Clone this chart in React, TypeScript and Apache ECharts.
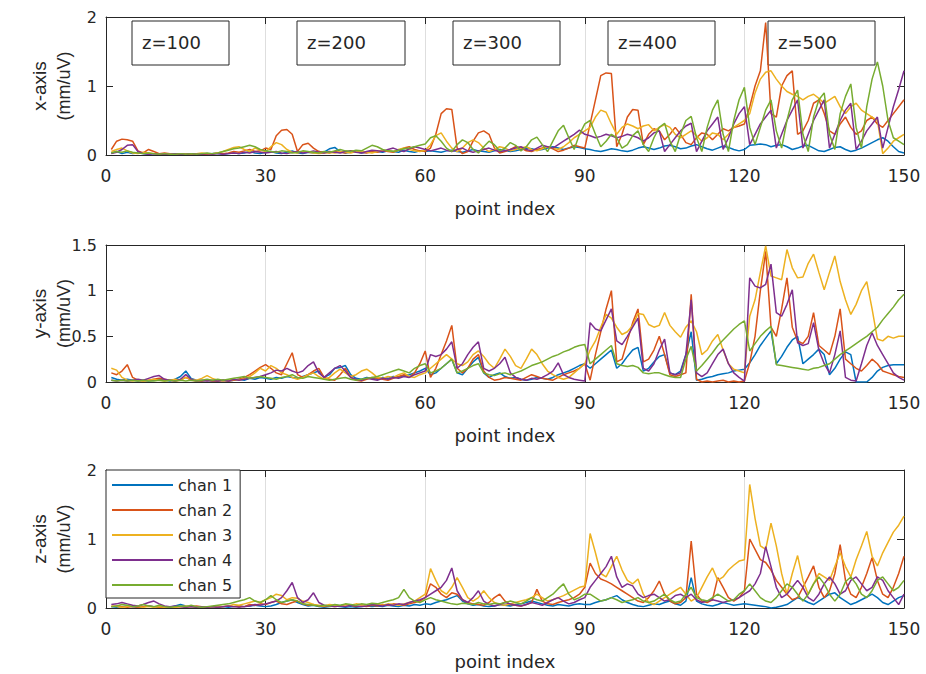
import React, { useEffect, useRef } from "react";
import * as echarts from "echarts";

const CHANNELS = ["chan 1", "chan 2", "chan 3", "chan 4", "chan 5"];
const COLORS = ["#0072BD", "#D95319", "#EDB120", "#7E2F8E", "#77AC30"];
const X_TICK_INTERVAL = 30;
const X_MAX = 150;
const Z_LABELS = ["z=100", "z=200", "z=300", "z=400", "z=500"];
const PANEL_TITLES = ["x-axis", "y-axis", "z-axis"];
const UNIT = "(mm/uV)";
const X_TITLE = "point index";
const PANEL_MAX = [2, 1.5, 2];
const PANEL_INTERVAL = [1, 0.5, 1];

// ---------- x-axis panel ----------
const xChan1 = [
  0.03,0.05,0.02,0.04,0.02,0.03,0.02,0.01,0.02,0.01, 0.01,0.02,0.01,0.01,0.02,0.01,0.01,0.02,0.01,0.02, 0.02,0.01,0.02,0.03,0.02,0.03,0.05,0.03,0.02,0.04,
  0.05,0.03,0.02,0.04,0.06,0.03,0.02,0.04,0.03,0.05, 0.04,0.09,0.11,0.05,0.03,0.04,0.05,0.03,0.04,0.06, 0.05,0.04,0.06,0.05,0.04,0.07,0.05,0.04,0.06,0.05,
  0.06,0.05,0.04,0.06,0.07,0.05,0.04,0.06,0.08,0.06, 0.05,0.04,0.06,0.08,0.07,0.05,0.06,0.08,0.1,0.09, 0.07,0.08,0.1,0.12,0.1,0.08,0.1,0.12,0.11,0.09,
  0.08,0.06,0.05,0.07,0.09,0.08,0.06,0.05,0.07,0.1, 0.12,0.1,0.08,0.1,0.13,0.14,0.12,0.09,0.1,0.13, 0.15,0.12,0.09,0.07,0.1,0.13,0.11,0.08,0.06,0.08,
  0.14,0.15,0.16,0.15,0.12,0.14,0.15,0.12,0.08,0.1, 0.13,0.14,0.1,0.06,0.05,0.08,0.11,0.12,0.08,0.05, 0.07,0.1,0.14,0.18,0.22,0.25,0.2,0.12,0.05,0.03,
];
const xChan2 = [
  0.08,0.2,0.23,0.22,0.2,0.06,0.03,0.08,0.05,0.02, 0.03,0.02,0.01,0.02,0.01,0.01,0.02,0.01,0.01,0.02, 0.03,0.02,0.03,0.05,0.04,0.06,0.08,0.05,0.06,0.1,
  0.08,0.28,0.36,0.37,0.3,0.05,0.15,0.17,0.1,0.05, 0.04,0.03,0.05,0.04,0.03,0.06,0.05,0.04,0.03,0.05, 0.04,0.06,0.05,0.04,0.07,0.1,0.12,0.08,0.06,0.05,
  0.1,0.3,0.6,0.67,0.66,0.1,0.02,0.05,0.2,0.32, 0.35,0.3,0.1,0.03,0.05,0.08,0.12,0.1,0.06,0.05, 0.08,0.1,0.12,0.09,0.05,0.07,0.1,0.14,0.12,0.1,
  0.45,0.8,1.15,1.19,1.18,0.12,0.3,0.55,0.66,0.65, 0.15,0.3,0.38,0.35,0.22,0.3,0.4,0.3,0.18,0.15, 0.25,0.32,0.3,0.22,0.3,0.38,0.35,0.4,0.42,0.45,
  0.7,1.0,1.22,1.92,0.6,0.55,1.0,1.15,1.22,0.3, 0.35,0.5,0.75,0.8,0.6,0.35,0.3,0.45,0.55,0.4, 0.3,0.35,0.5,0.55,0.45,0.4,0.5,0.6,0.7,0.8,
];
const xChan3 = [
  0.05,0.08,0.1,0.06,0.03,0.02,0.04,0.03,0.02,0.01, 0.01,0.02,0.01,0.01,0.02,0.01,0.02,0.03,0.02,0.01, 0.03,0.05,0.08,0.11,0.12,0.08,0.05,0.1,0.07,0.05,
  0.12,0.18,0.15,0.08,0.04,0.03,0.05,0.04,0.03,0.02, 0.03,0.04,0.03,0.05,0.04,0.03,0.05,0.06,0.04,0.03, 0.05,0.07,0.06,0.05,0.08,0.1,0.08,0.06,0.05,0.07,
  0.15,0.28,0.32,0.2,0.1,0.05,0.1,0.18,0.22,0.18, 0.1,0.05,0.08,0.12,0.1,0.06,0.08,0.1,0.12,0.08, 0.06,0.09,0.12,0.1,0.08,0.12,0.18,0.25,0.3,0.35,
  0.4,0.55,0.65,0.62,0.45,0.3,0.4,0.45,0.42,0.38, 0.42,0.44,0.35,0.4,0.44,0.4,0.3,0.25,0.3,0.35, 0.28,0.2,0.25,0.32,0.3,0.22,0.3,0.4,0.45,0.5,
  0.6,0.9,1.1,1.2,1.22,1.1,1.0,0.92,0.88,0.85, 0.8,0.85,0.88,0.82,0.75,0.8,0.85,0.7,0.6,0.7, 0.75,0.65,0.6,0.55,0.5,0.02,0.1,0.2,0.25,0.3,
];
const xChan4 = [
  0.02,0.04,0.08,0.14,0.15,0.05,0.02,0.01,0.02,0.01, 0.01,0.01,0.02,0.01,0.01,0.02,0.01,0.01,0.02,0.01, 0.02,0.01,0.02,0.03,0.02,0.04,0.03,0.05,0.04,0.03,
  0.04,0.05,0.03,0.02,0.04,0.05,0.03,0.04,0.06,0.04, 0.03,0.05,0.04,0.03,0.05,0.06,0.04,0.03,0.05,0.07, 0.06,0.05,0.08,0.1,0.07,0.05,0.09,0.12,0.1,0.08,
  0.06,0.08,0.1,0.07,0.05,0.08,0.1,0.06,0.04,0.06, 0.08,0.1,0.07,0.05,0.06,0.08,0.1,0.12,0.08,0.06, 0.1,0.14,0.12,0.1,0.15,0.2,0.25,0.3,0.36,0.3,
  0.28,0.25,0.27,0.3,0.28,0.25,0.27,0.3,0.28,0.25, 0.2,0.25,0.32,0.35,0.05,0.15,0.25,0.35,0.42,0.46, 0.05,0.2,0.35,0.45,0.55,0.08,0.25,0.45,0.6,0.7,
  0.15,0.3,0.45,0.55,0.65,0.1,0.3,0.5,0.65,0.8, 0.1,0.3,0.5,0.65,0.8,0.1,0.3,0.5,0.65,0.75, 0.08,0.2,0.35,0.45,0.55,0.1,0.4,0.7,0.95,1.22,
];
const xChan5 = [
  0.03,0.05,0.04,0.06,0.04,0.03,0.02,0.03,0.02,0.01, 0.02,0.01,0.01,0.02,0.01,0.02,0.01,0.02,0.03,0.02, 0.03,0.05,0.07,0.09,0.1,0.12,0.14,0.12,0.08,0.06,
  0.05,0.04,0.06,0.05,0.03,0.04,0.06,0.05,0.04,0.03, 0.05,0.04,0.06,0.08,0.06,0.05,0.07,0.06,0.1,0.14, 0.12,0.08,0.06,0.05,0.07,0.09,0.1,0.12,0.14,0.16,
  0.25,0.28,0.2,0.1,0.05,0.15,0.22,0.18,0.08,0.03, 0.12,0.2,0.15,0.06,0.1,0.18,0.14,0.06,0.12,0.22, 0.26,0.15,0.05,0.2,0.35,0.43,0.25,0.08,0.3,0.45,
  0.5,0.3,0.12,0.2,0.3,0.25,0.1,0.15,0.28,0.35, 0.15,0.05,0.25,0.4,0.46,0.2,0.05,0.3,0.5,0.56, 0.25,0.05,0.4,0.65,0.8,0.3,0.05,0.5,0.8,0.98,
  0.4,0.15,0.4,0.65,0.8,0.35,0.1,0.5,0.8,0.94, 0.3,0.05,0.55,0.8,0.9,0.3,0.08,0.6,0.85,1.03, 0.4,0.1,0.7,1.1,1.35,1.0,0.5,0.25,0.2,0.15,
];

// ---------- y-axis panel ----------
const yChan1 = [
  0.05,0.03,0.02,0.03,0.02,0.01,0.02,0.01,0.02,0.03, 0.02,0.01,0.03,0.06,0.12,0.04,0.02,0.01,0.02,0.01, 0.01,0.02,0.01,0.02,0.03,0.02,0.04,0.03,0.05,0.04,
  0.03,0.05,0.04,0.06,0.05,0.04,0.06,0.08,0.1,0.12, 0.05,0.08,0.15,0.16,0.18,0.08,0.04,0.03,0.05,0.04, 0.03,0.05,0.04,0.06,0.05,0.07,0.08,0.1,0.12,0.15,
  0.08,0.1,0.15,0.2,0.25,0.1,0.08,0.15,0.22,0.27, 0.1,0.05,0.08,0.1,0.06,0.04,0.05,0.03,0.02,0.03, 0.05,0.04,0.03,0.05,0.08,0.1,0.12,0.15,0.18,0.2,
  0.15,0.2,0.25,0.3,0.35,0.15,0.2,0.28,0.35,0.38, 0.12,0.15,0.22,0.28,0.3,0.1,0.08,0.12,0.3,0.55, 0.02,0.03,0.05,0.06,0.08,0.09,0.1,0.12,0.13,0.14,
  0.21,0.3,0.4,0.48,0.56,0.2,0.28,0.38,0.46,0.5, 0.2,0.25,0.3,0.36,0.3,0.08,0.15,0.25,0.33,0.3, 0.0,0.0,0.0,0.05,0.12,0.16,0.18,0.19,0.19,0.19,
];
const yChan2 = [
  0.1,0.08,0.12,0.19,0.05,0.02,0.01,0.02,0.03,0.04, 0.03,0.02,0.01,0.02,0.05,0.02,0.01,0.01,0.02,0.01, 0.01,0.02,0.01,0.02,0.03,0.05,0.08,0.12,0.16,0.19,
  0.15,0.1,0.08,0.2,0.32,0.08,0.05,0.08,0.12,0.15, 0.05,0.03,0.02,0.08,0.15,0.05,0.02,0.01,0.03,0.05, 0.04,0.03,0.02,0.04,0.06,0.08,0.05,0.1,0.2,0.34,
  0.05,0.15,0.3,0.45,0.62,0.15,0.1,0.15,0.25,0.3, 0.12,0.05,0.02,0.03,0.05,0.04,0.03,0.02,0.05,0.08, 0.06,0.04,0.03,0.02,0.05,0.08,0.1,0.12,0.15,0.2,
  0.02,0.3,0.55,0.8,1.0,0.22,0.25,0.45,0.65,0.8, 0.22,0.25,0.35,0.5,0.3,0.08,0.06,0.08,0.1,0.96, 0.03,0.0,0.01,0.0,0.01,0.02,0.0,0.01,0.0,0.01,
  0.21,0.5,1.0,1.43,0.6,0.5,0.8,1.14,0.6,0.45, 0.42,0.5,0.76,0.4,0.35,0.3,0.5,0.8,0.25,0.2, 0.15,0.12,0.18,0.25,0.2,0.12,0.1,0.08,0.06,0.05,
];
const yChan3 = [
  0.15,0.13,0.05,0.02,0.01,0.02,0.01,0.02,0.03,0.02, 0.01,0.02,0.03,0.02,0.05,0.03,0.02,0.04,0.07,0.04, 0.02,0.01,0.02,0.03,0.02,0.04,0.06,0.1,0.15,0.12,
  0.18,0.15,0.1,0.08,0.05,0.03,0.05,0.08,0.1,0.06, 0.03,0.05,0.1,0.14,0.1,0.06,0.08,0.12,0.14,0.1, 0.05,0.04,0.06,0.05,0.08,0.1,0.06,0.05,0.08,0.1,
  0.15,0.2,0.25,0.3,0.25,0.2,0.18,0.22,0.3,0.34, 0.28,0.2,0.15,0.25,0.36,0.28,0.18,0.15,0.25,0.36, 0.3,0.2,0.12,0.08,0.05,0.03,0.05,0.1,0.15,0.2,
  0.35,0.45,0.6,0.74,0.7,0.6,0.52,0.55,0.62,0.75, 0.74,0.63,0.6,0.62,0.76,0.62,0.55,0.49,0.6,0.67, 0.55,0.3,0.35,0.45,0.52,0.35,0.2,0.14,0.12,0.1,
  0.72,0.9,1.2,1.49,1.16,1.14,1.12,1.45,1.25,1.14, 1.15,1.3,1.4,1.2,1.01,1.2,1.38,1.1,0.9,0.74, 0.85,1.0,1.1,0.8,0.47,0.45,0.5,0.48,0.5,0.5,
];
const yChan4 = [
  0.02,0.01,0.02,0.01,0.02,0.03,0.02,0.04,0.06,0.07, 0.03,0.02,0.01,0.03,0.08,0.03,0.01,0.02,0.01,0.02, 0.01,0.02,0.01,0.03,0.02,0.03,0.04,0.05,0.06,0.08,
  0.1,0.13,0.12,0.15,0.12,0.1,0.12,0.18,0.22,0.1, 0.05,0.1,0.15,0.18,0.12,0.05,0.03,0.02,0.04,0.03, 0.02,0.04,0.03,0.05,0.04,0.06,0.05,0.08,0.1,0.12,
  0.3,0.28,0.3,0.36,0.44,0.15,0.2,0.3,0.38,0.44, 0.15,0.12,0.15,0.2,0.27,0.1,0.05,0.03,0.02,0.04, 0.03,0.05,0.08,0.12,0.21,0.08,0.05,0.03,0.02,0.01,
  0.65,0.58,0.56,0.68,0.8,0.45,0.41,0.5,0.6,0.7, 0.15,0.12,0.2,0.35,0.47,0.1,0.08,0.1,0.3,0.9, 0.1,0.06,0.1,0.2,0.3,0.36,0.2,0.1,0.05,0.01,
  1.14,1.05,1.03,1.07,1.29,0.76,0.72,0.85,1.01,0.43, 0.4,0.42,0.65,0.35,0.2,0.1,0.3,0.56,0.05,0.02, 0.01,0.2,0.4,0.54,0.4,0.3,0.2,0.1,0.05,0.02,
];
const yChan5 = [
  0.02,0.01,0.02,0.01,0.02,0.01,0.02,0.01,0.01,0.02, 0.01,0.02,0.01,0.02,0.01,0.02,0.01,0.02,0.03,0.02, 0.03,0.02,0.03,0.04,0.05,0.06,0.04,0.05,0.06,0.05,
  0.04,0.03,0.05,0.06,0.08,0.05,0.04,0.06,0.05,0.04, 0.03,0.02,0.03,0.04,0.05,0.03,0.02,0.03,0.04,0.05, 0.06,0.08,0.1,0.12,0.14,0.12,0.1,0.15,0.18,0.2,
  0.1,0.12,0.15,0.2,0.25,0.1,0.12,0.15,0.18,0.2, 0.1,0.08,0.07,0.09,0.1,0.08,0.1,0.12,0.15,0.18, 0.2,0.22,0.25,0.28,0.3,0.33,0.35,0.38,0.4,0.41,
  0.2,0.25,0.3,0.35,0.4,0.2,0.18,0.17,0.18,0.16, 0.1,0.09,0.1,0.1,0.08,0.06,0.05,0.05,0.25,0.39, 0.12,0.18,0.25,0.32,0.4,0.46,0.52,0.58,0.63,0.67,
  0.34,0.42,0.5,0.56,0.61,0.19,0.18,0.17,0.16,0.15, 0.14,0.13,0.15,0.16,0.18,0.2,0.25,0.3,0.34,0.38, 0.42,0.46,0.5,0.55,0.6,0.68,0.75,0.82,0.9,0.96,
];

// ---------- z-axis panel ----------
const zChan1 = [
  0.02,0.01,0.02,0.03,0.02,0.01,0.02,0.03,0.02,0.01, 0.02,0.01,0.03,0.05,0.03,0.02,0.01,0.02,0.01,0.02, 0.01,0.02,0.01,0.02,0.03,0.02,0.03,0.04,0.03,0.02,
  0.03,0.05,0.08,0.1,0.12,0.08,0.05,0.03,0.04,0.02, 0.01,0.02,0.03,0.02,0.01,0.02,0.01,0.02,0.03,0.02, 0.03,0.02,0.04,0.03,0.02,0.04,0.03,0.05,0.04,0.06,
  0.05,0.08,0.1,0.12,0.15,0.18,0.1,0.06,0.04,0.05, 0.03,0.02,0.03,0.05,0.04,0.03,0.05,0.06,0.08,0.1, 0.08,0.06,0.04,0.03,0.05,0.04,0.03,0.05,0.06,0.05,
  0.05,0.08,0.1,0.12,0.15,0.18,0.12,0.08,0.05,0.03, 0.02,0.04,0.06,0.05,0.08,0.1,0.06,0.04,0.1,0.44, 0.1,0.06,0.04,0.03,0.05,0.08,0.06,0.04,0.05,0.06,
  0.05,0.04,0.03,0.02,0.0,0.01,0.03,0.05,0.1,0.15, 0.12,0.08,0.05,0.1,0.15,0.2,0.22,0.15,0.1,0.05, 0.08,0.12,0.16,0.2,0.15,0.08,0.05,0.1,0.15,0.18,
];
const zChan2 = [
  0.02,0.03,0.02,0.01,0.02,0.01,0.02,0.03,0.02,0.01, 0.01,0.02,0.01,0.02,0.01,0.02,0.03,0.02,0.01,0.02, 0.01,0.02,0.03,0.02,0.03,0.02,0.05,0.04,0.06,0.05,
  0.08,0.1,0.06,0.05,0.08,0.1,0.06,0.04,0.05,0.03, 0.02,0.03,0.02,0.03,0.05,0.04,0.02,0.03,0.02,0.04, 0.03,0.05,0.04,0.06,0.05,0.04,0.06,0.08,0.1,0.15,
  0.35,0.3,0.2,0.15,0.22,0.2,0.12,0.08,0.06,0.05, 0.04,0.08,0.15,0.2,0.1,0.05,0.04,0.03,0.05,0.08, 0.27,0.1,0.06,0.05,0.08,0.1,0.12,0.15,0.2,0.3,
  0.65,0.5,0.42,0.39,0.35,0.3,0.25,0.2,0.15,0.1, 0.08,0.15,0.25,0.39,0.2,0.1,0.06,0.08,0.15,0.97, 0.2,0.1,0.08,0.12,0.44,0.3,0.15,0.1,0.15,0.25,
  1.0,0.85,0.7,0.66,0.55,0.4,0.3,0.2,0.12,0.15, 0.3,0.45,0.61,0.3,0.15,0.25,0.5,0.92,0.4,0.2, 0.15,0.3,0.5,0.73,0.4,0.2,0.15,0.3,0.5,0.75,
];
const zChan3 = [
  0.03,0.02,0.01,0.02,0.03,0.02,0.01,0.02,0.01,0.02, 0.01,0.02,0.01,0.02,0.03,0.02,0.01,0.02,0.01,0.02, 0.03,0.02,0.03,0.05,0.04,0.06,0.08,0.1,0.08,0.12,
  0.15,0.2,0.18,0.12,0.15,0.14,0.1,0.08,0.05,0.04, 0.03,0.05,0.04,0.03,0.05,0.04,0.06,0.05,0.04,0.06, 0.05,0.04,0.06,0.05,0.04,0.06,0.08,0.1,0.15,0.2,
  0.57,0.4,0.25,0.2,0.3,0.44,0.3,0.15,0.1,0.15, 0.25,0.15,0.08,0.05,0.04,0.06,0.08,0.1,0.12,0.15, 0.2,0.15,0.1,0.12,0.15,0.18,0.22,0.26,0.3,0.32,
  1.08,0.8,0.5,0.45,0.6,0.75,0.55,0.4,0.35,0.42, 0.2,0.08,0.05,0.1,0.15,0.2,0.25,0.3,0.2,0.1, 0.15,0.3,0.45,0.58,0.4,0.45,0.55,0.62,0.68,0.7,
  1.79,1.3,0.9,0.85,1.23,0.9,0.5,0.2,0.5,0.76, 0.4,0.2,0.35,0.5,0.45,0.4,0.6,0.8,0.6,0.45, 0.7,0.9,1.11,0.75,0.61,0.8,0.95,1.1,1.2,1.33,
];
const zChan4 = [
  0.05,0.06,0.08,0.06,0.04,0.03,0.05,0.08,0.1,0.06, 0.03,0.02,0.03,0.02,0.01,0.02,0.01,0.02,0.01,0.02, 0.01,0.02,0.03,0.02,0.01,0.02,0.03,0.05,0.04,0.06,
  0.08,0.1,0.15,0.25,0.37,0.15,0.08,0.12,0.22,0.08, 0.04,0.03,0.02,0.03,0.02,0.04,0.03,0.02,0.03,0.05, 0.04,0.03,0.05,0.04,0.06,0.05,0.08,0.1,0.12,0.15,
  0.2,0.25,0.3,0.4,0.58,0.25,0.12,0.08,0.15,0.25, 0.1,0.05,0.03,0.05,0.08,0.06,0.04,0.03,0.05,0.08, 0.06,0.04,0.08,0.12,0.15,0.1,0.06,0.08,0.12,0.15,
  0.3,0.4,0.5,0.6,0.75,0.45,0.3,0.35,0.32,0.2, 0.15,0.18,0.2,0.15,0.1,0.12,0.18,0.2,0.15,0.2, 0.12,0.08,0.1,0.12,0.1,0.08,0.1,0.12,0.15,0.2,
  0.25,0.35,0.5,0.89,0.6,0.3,0.15,0.2,0.3,0.4, 0.3,0.15,0.1,0.2,0.35,0.45,0.35,0.2,0.25,0.4, 0.45,0.35,0.25,0.3,0.45,0.4,0.25,0.15,0.05,0.2,
];
const zChan5 = [
  0.02,0.03,0.05,0.04,0.02,0.03,0.05,0.03,0.02,0.04, 0.02,0.01,0.02,0.03,0.02,0.04,0.02,0.01,0.02,0.03, 0.04,0.05,0.06,0.08,0.1,0.12,0.15,0.1,0.08,0.12,
  0.18,0.12,0.08,0.1,0.12,0.1,0.06,0.05,0.04,0.03, 0.04,0.03,0.05,0.04,0.06,0.05,0.04,0.06,0.05,0.07, 0.06,0.08,0.1,0.12,0.15,0.27,0.15,0.1,0.08,0.12,
  0.15,0.12,0.1,0.08,0.06,0.05,0.07,0.06,0.05,0.08, 0.06,0.05,0.07,0.06,0.08,0.1,0.08,0.06,0.1,0.15, 0.12,0.1,0.15,0.2,0.28,0.35,0.2,0.12,0.15,0.2,
  0.2,0.15,0.1,0.12,0.15,0.12,0.08,0.1,0.12,0.15, 0.1,0.08,0.1,0.15,0.2,0.12,0.08,0.1,0.2,0.3, 0.15,0.12,0.1,0.15,0.2,0.15,0.1,0.12,0.2,0.25,
  0.35,0.25,0.15,0.1,0.08,0.15,0.25,0.35,0.3,0.2, 0.1,0.2,0.35,0.45,0.35,0.2,0.1,0.2,0.38,0.45, 0.35,0.2,0.15,0.25,0.4,0.45,0.35,0.25,0.3,0.4,
];

const PANELS = [
  [xChan1, xChan2, xChan3, xChan4, xChan5],
  [yChan1, yChan2, yChan3, yChan4, yChan5],
  [zChan1, zChan2, zChan3, zChan4, zChan5],
];

// ---------- layout (pixels) ----------
const GRID_LEFT = 106;
const GRID_WIDTH = 798;
const GRID_TOPS = [17, 245, 470];
const GRID_HEIGHTS = [138, 137, 138];
const Z_BOX_LEFTS = [132, 297, 453, 608, 768];
const Z_BOX_WIDTHS = [97, 108, 107, 107, 107];

const AX = "#262626";
const TICK_FONT = "'DejaVu Sans', 'Liberation Sans', sans-serif";
const TITLE_FONT = "'Liberation Sans', Arial, sans-serif";

export default function App() {
  const ref = useRef<HTMLDivElement>(null);

  useEffect(() => {
    if (!ref.current) return;
    const chart = echarts.init(ref.current, undefined, { renderer: "svg" });

    const grid: any[] = [];
    const xAxis: any[] = [];
    const yAxis: any[] = [];
    const series: any[] = [];
    const graphic: any[] = [];

    PANELS.forEach((chans, p) => {
      grid.push({
        left: GRID_LEFT,
        top: GRID_TOPS[p],
        width: GRID_WIDTH,
        height: GRID_HEIGHTS[p],
        containLabel: false,
      });
      const baseX = {
        gridIndex: p,
        type: "value",
        min: 0,
        max: X_MAX,
        interval: X_TICK_INTERVAL,
        axisLine: { show: true, onZero: false, lineStyle: { color: AX, width: 1 } },
        axisTick: { show: true, inside: true, length: 7, lineStyle: { color: AX } },
      };
      xAxis.push({
        ...baseX,
        position: "bottom",
        axisLabel: {
          show: true,
          color: AX,
          fontSize: 17,
          fontFamily: TICK_FONT,
          margin: 12,
        },
        splitLine: {
          show: true,
          lineStyle: { color: "#dedede", width: 1 },
        },
      });
      xAxis.push({
        ...baseX,
        position: "top",
        axisLabel: { show: false },
        splitLine: { show: false },
      });
      const baseY = {
        gridIndex: p,
        type: "value",
        min: 0,
        max: PANEL_MAX[p],
        interval: PANEL_INTERVAL[p],
        axisLine: { show: true, onZero: false, lineStyle: { color: AX, width: 1 } },
        axisTick: { show: true, inside: true, length: 7, lineStyle: { color: AX } },
        splitLine: { show: false },
      };
      yAxis.push({
        ...baseY,
        position: "left",
        axisLabel: {
          show: true,
          color: AX,
          fontSize: 16,
          fontFamily: TICK_FONT,
          margin: 9,
        },
      });
      yAxis.push({
        ...baseY,
        position: "right",
        axisLabel: { show: false },
      });

      chans.forEach((arr, c) => {
        series.push({
          type: "line",
          name: CHANNELS[c],
          xAxisIndex: p * 2,
          yAxisIndex: p * 2,
          data: arr.map((v, k) => [k + 1, v]),
          showSymbol: false,
          symbol: "none",
          silent: true,
          lineStyle: { color: COLORS[c], width: 1.5 },
          itemStyle: { color: COLORS[c] },
          z: 3,
        });
      });

      const cy = GRID_TOPS[p] + GRID_HEIGHTS[p] / 2;
      graphic.push({
        type: "text",
        x: 39,
        y: cy,
        rotation: Math.PI / 2,
        style: {
          text: PANEL_TITLES[p],
          fill: AX,
          font: `19px ${TITLE_FONT}`,
          textAlign: "center",
          textVerticalAlign: "middle",
        },
      });
      graphic.push({
        type: "text",
        x: 64,
        y: cy,
        rotation: Math.PI / 2,
        style: {
          text: UNIT,
          fill: AX,
          font: `18px ${TITLE_FONT}`,
          textAlign: "center",
          textVerticalAlign: "middle",
        },
      });
      graphic.push({
        type: "text",
        x: GRID_LEFT + GRID_WIDTH / 2,
        y: GRID_TOPS[p] + GRID_HEIGHTS[p] + 53,
        style: {
          text: X_TITLE,
          fill: AX,
          font: `18px ${TICK_FONT}`,
          textAlign: "center",
          textVerticalAlign: "middle",
        },
      });
    });

    Z_LABELS.forEach((lab, k) => {
      graphic.push({
        type: "rect",
        shape: { x: Z_BOX_LEFTS[k], y: 21, width: Z_BOX_WIDTHS[k], height: 44 },
        style: { fill: "#ffffff", stroke: AX, lineWidth: 1 },
        z: 1,
      });
      graphic.push({
        type: "text",
        x: Z_BOX_LEFTS[k] + 10,
        y: 42,
        style: {
          text: lab,
          fill: AX,
          font: `18px ${TICK_FONT}`,
          textAlign: "left",
          textVerticalAlign: "middle",
        },
        z: 1,
      });
    });

    chart.setOption({
      animation: false,
      backgroundColor: "#ffffff",
      grid,
      xAxis,
      yAxis,
      series,
      graphic,
      legend: {
        data: CHANNELS,
        orient: "vertical",
        left: GRID_LEFT,
        top: GRID_TOPS[2],
        icon: "rect",
        itemWidth: 61,
        itemHeight: 2,
        itemGap: 5,
        padding: [5, 8, 3, 6],
        backgroundColor: "#ffffff",
        borderColor: AX,
        borderWidth: 1,
        borderRadius: 0,
        selectedMode: false,
        textStyle: {
          color: AX,
          fontSize: 16,
          fontFamily: TICK_FONT,
          lineHeight: 20,
        },
        z: 10,
      },
    });

    return () => chart.dispose();
  }, []);

  return (
    <div
      ref={ref}
      style={{ position: "fixed", left: 0, top: 0, width: 926, height: 674, background: "#fff" }}
    />
  );
}
